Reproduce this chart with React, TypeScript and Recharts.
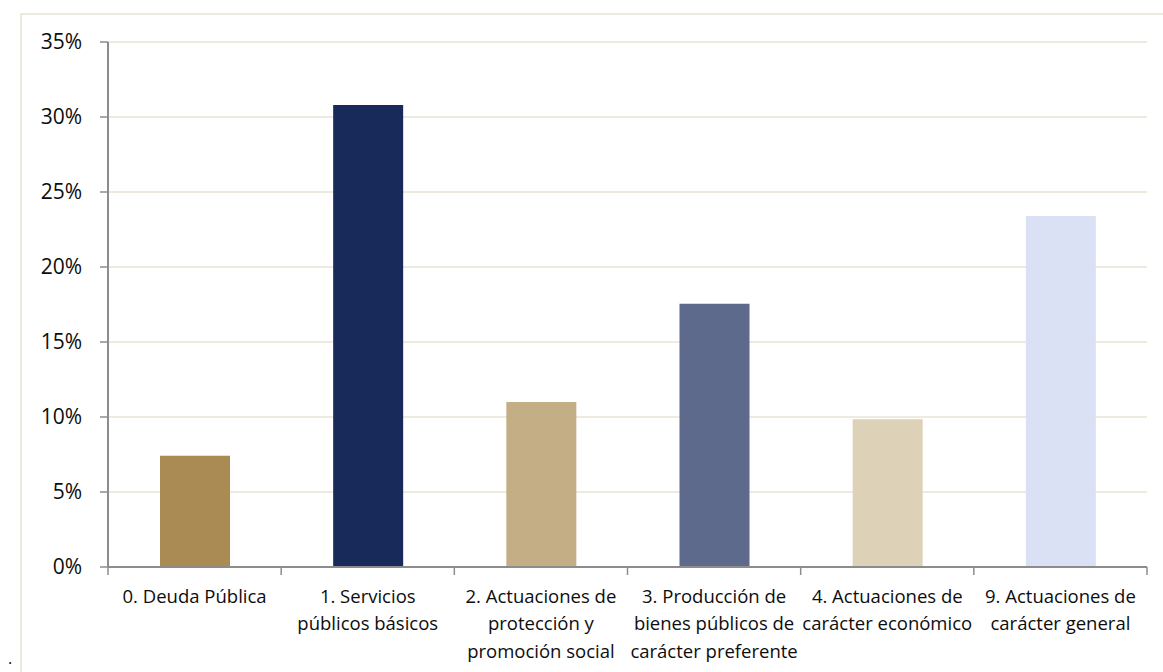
import React from "react";
import { BarChart, Bar, XAxis, YAxis, CartesianGrid, Cell } from "recharts";

const categories = [
  "0. Deuda Pública",
  "1. Servicios\npúblicos básicos",
  "2. Actuaciones de\nprotección y\npromoción social",
  "3. Producción de\nbienes públicos de\ncarácter preferente",
  "4. Actuaciones de\ncarácter económico",
  "9. Actuaciones de\ncarácter general",
];
const values = [7.42, 30.8, 11.0, 17.55, 9.85, 23.4];
const yTicks = [0, 5, 10, 15, 20, 25, 30, 35];
const barColors = ["#A98B53", "#172A5A", "#C4AE85", "#5E6A8B", "#DDD2B8", "#DBE1F4"];

const data = categories.map((c, i) => ({ name: c, value: values[i] }));

const W = 1163;
const H = 672;
const LEFT = 108;
const RIGHT = 16;
const BAND = (W - LEFT - RIGHT) / categories.length;
const FONT = "'Open Sans', 'DejaVu Sans', sans-serif";

const XTick = (props: any) => {
  const { x, y, payload, index } = props;
  const lines = String(payload.value).split("\n");
  const half = BAND / 2;
  return (
    <g>
      <line x1={x - half} x2={x - half} y1={y} y2={y + 8} stroke="#8C8C8C" strokeWidth={1.5} />
      {index === categories.length - 1 && (
        <line x1={x + half} x2={x + half} y1={y} y2={y + 8} stroke="#8C8C8C" strokeWidth={1.5} />
      )}
      {lines.map((l, i) => (
        <text
          key={i}
          x={x}
          y={y + 28 + i * 27.5}
          textAnchor="middle"
          dominantBaseline="central"
          fontFamily={FONT}
          fontSize={18.5}
          fill="#0d0d0d"
        >
          {l}
        </text>
      ))}
    </g>
  );
};

export default function App() {
  return (
    <div style={{ position: "absolute", left: 0, top: 0, width: W, height: H, background: "#fff", overflow: "hidden" }}>
      <div
        style={{
          position: "absolute",
          left: 20,
          top: 13,
          width: W,
          height: H,
          borderLeft: "2px solid #EFEADF",
          borderTop: "2px solid #EFEADF",
        }}
      />
      <div
        style={{
          position: "absolute",
          left: 8,
          top: 650,
          fontFamily: FONT,
          fontSize: 16,
          lineHeight: "16px",
          color: "#0d0d0d",
        }}
      >
        .
      </div>
      <div style={{ position: "absolute", left: 0, top: 0 }}>
        <BarChart width={W} height={H} data={data} margin={{ top: 42, right: RIGHT, left: 0, bottom: 45 }}>
          <CartesianGrid vertical={false} stroke="#EFEADF" strokeWidth={2} />
          <XAxis
            dataKey="name"
            interval={0}
            height={60}
            tickSize={0}
            tickMargin={0}
            tickLine={false}
            axisLine={{ stroke: "#8C8C8C", strokeWidth: 2 }}
            tick={<XTick />}
          />
          <YAxis
            width={LEFT}
            domain={[0, 35]}
            ticks={yTicks}
            interval={0}
            tickSize={8}
            tickMargin={18}
            axisLine={{ stroke: "#8C8C8C", strokeWidth: 2 }}
            tickLine={{ stroke: "#8C8C8C", strokeWidth: 1.5 }}
            tickFormatter={(v: number) => `${v}%`}
            tick={{ fontFamily: FONT, fontSize: 21, fill: "#0d0d0d" }}
          />
          <Bar dataKey="value" barSize={70} isAnimationActive={false}>
            {data.map((d, i) => (
              <Cell key={i} fill={barColors[i]} />
            ))}
          </Bar>
        </BarChart>
      </div>
    </div>
  );
}
